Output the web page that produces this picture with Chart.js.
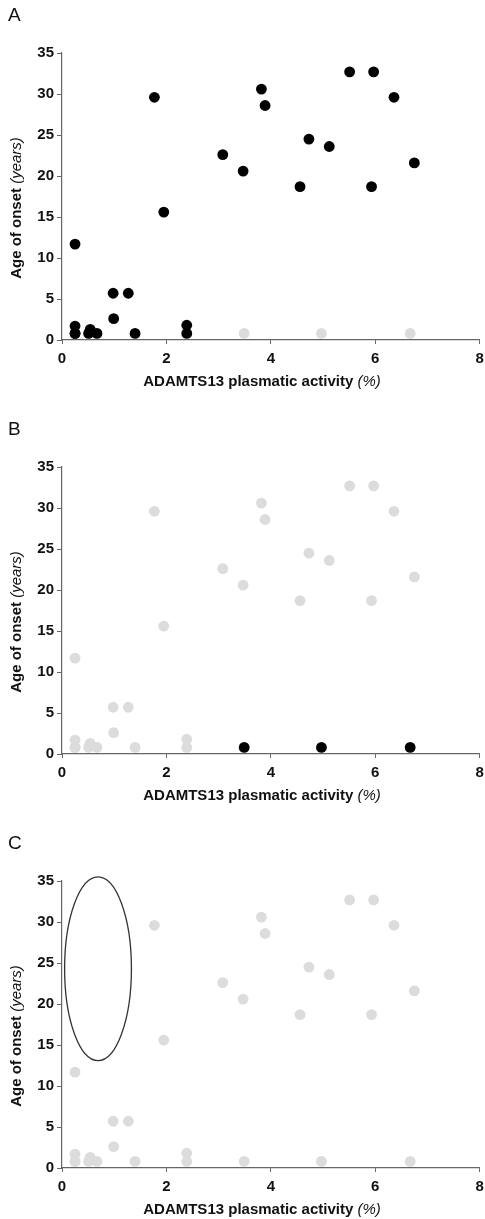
<!DOCTYPE html>
<html>
<head>
<meta charset="utf-8">
<script src="https://cdn.jsdelivr.net/npm/chart.js@4/dist/chart.umd.min.js"></script>
<style>
  body { margin: 0; background: #fff; width: 485px; height: 1219px; overflow: hidden; position: relative; }
  .panel { position: absolute; left: 0; width: 485px; height: 405px; }
  .lbl { position: absolute; left: 8px; font: 19px "Liberation Sans", Arial, sans-serif; color: #111; }
</style>
</head>
<body>
<div class="panel" style="top:0"><canvas id="cA" width="485" height="405"></canvas></div>
<div class="panel" style="top:414px"><canvas id="cB" width="485" height="405"></canvas></div>
<div class="panel" style="top:828px"><canvas id="cC" width="485" height="391"></canvas></div>
<div class="lbl" style="top:4px">A</div>
<div class="lbl" style="top:418px">B</div>
<div class="lbl" style="top:832px">C</div>
<script>
// patients: ADAMTS13 activity (%) vs age of onset (years)
var activity = [0.25, 0.25, 0.25, 0.25, 0.51, 0.54, 0.67, 0.98, 0.99, 1.27, 1.40,
                1.77, 1.95, 2.39, 2.39, 3.08, 3.47, 3.82, 3.89, 4.56, 4.73, 5.12,
                5.51, 5.93, 5.97, 6.36, 6.75];
var onset    = [11.7, 1.7, 0.8, 0.8, 0.8, 1.3, 0.8, 5.7, 2.6, 5.7, 0.8,
                29.6, 15.6, 1.8, 0.8, 22.6, 20.6, 30.6, 28.6, 18.7, 24.5, 23.6,
                32.7, 18.7, 32.7, 29.6, 21.6];
// second group (highlighted in panel B)
var activity2 = [3.49, 4.97, 6.67];
var onset2    = [0.8, 0.8, 0.8];

var xTicks = [0, 2, 4, 6, 8];
var yTicks = [0, 5, 10, 15, 20, 25, 30, 35];

// ellipse in panel C (data units)
var ellipse = { cx: 0.69, cy: 24.3, rx: 0.64, ry: 11.2 };

var BLACK = '#000000', GREY = '#dcdcdc', AXIS = '#666666';

function pts(xs, ys) {
  return xs.map(function (x, i) { return { x: x, y: ys[i] }; });
}

var axisTitles = {
  id: 'axisTitles',
  afterDraw: function (chart) {
    var ctx = chart.ctx, a = chart.chartArea;
    ctx.save();
    ctx.fillStyle = '#111';
    ctx.textBaseline = 'middle';
    // x title
    var b1 = 'ADAMTS13 plasmatic activity ', i1 = '(%)';
    ctx.font = 'bold 15px "Liberation Sans", Arial, sans-serif';
    var w1 = ctx.measureText(b1).width;
    ctx.font = 'italic 15px "Liberation Sans", Arial, sans-serif';
    var w2 = ctx.measureText(i1).width;
    var sx = 262 - (w1 + w2) / 2, sy = a.bottom + 42;
    ctx.font = 'bold 15px "Liberation Sans", Arial, sans-serif';
    ctx.fillText(b1, sx, sy);
    ctx.font = 'italic 15px "Liberation Sans", Arial, sans-serif';
    ctx.fillText(i1, sx + w1, sy);
    // y title
    var b2 = 'Age of onset ', i2 = '(years)';
    ctx.translate(17, 208);
    ctx.rotate(-Math.PI / 2);
    ctx.font = 'bold 15px "Liberation Sans", Arial, sans-serif';
    var w3 = ctx.measureText(b2).width;
    ctx.font = 'italic 15px "Liberation Sans", Arial, sans-serif';
    var w4 = ctx.measureText(i2).width;
    var s2 = -(w3 + w4) / 2;
    ctx.font = 'bold 15px "Liberation Sans", Arial, sans-serif';
    ctx.fillText(b2, s2, 0);
    ctx.font = 'italic 15px "Liberation Sans", Arial, sans-serif';
    ctx.fillText(i2, s2 + w3, 0);
    ctx.restore();
  }
};

var ellipsePlugin = {
  id: 'ellipse',
  afterDatasetsDraw: function (chart, args, opts) {
    if (!opts.show) return;
    var x = chart.scales.x, y = chart.scales.y, ctx = chart.ctx;
    var cx = x.getPixelForValue(ellipse.cx), cy = y.getPixelForValue(ellipse.cy);
    var rx = x.getPixelForValue(ellipse.cx + ellipse.rx) - cx;
    var ry = cy - y.getPixelForValue(ellipse.cy + ellipse.ry);
    ctx.save();
    ctx.beginPath();
    ctx.ellipse(cx, cy, rx, ry, 0, 0, Math.PI * 2);
    ctx.strokeStyle = '#333';
    ctx.lineWidth = 1.3;
    ctx.stroke();
    ctx.restore();
  }
};

function makeChart(id, col1, col2, showEllipse) {
  var tickFont = { family: '"Liberation Sans", Arial, sans-serif', size: 15, weight: 'bold' };
  return new Chart(document.getElementById(id), {
    type: 'scatter',
    data: {
      datasets: [
        { data: pts(activity2, onset2), backgroundColor: col2, borderWidth: 0, pointRadius: 5.4, order: col2 === BLACK ? 1 : 2 },
        { data: pts(activity, onset), backgroundColor: col1, borderWidth: 0, pointRadius: 5.4, order: col1 === BLACK ? 1 : 2 }
      ]
    },
    options: {
      responsive: false,
      animation: false,
      events: [],
      layout: { padding: { top: 53, right: 5, left: 0, bottom: 0 } },
      plugins: { legend: { display: false }, tooltip: { enabled: false }, ellipse: { show: showEllipse } },
      scales: {
        x: {
          type: 'linear', min: 0, max: 8,
          afterBuildTicks: function (s) { s.ticks = xTicks.map(function (v) { return { value: v }; }); },
          afterFit: function (s) {
            s.height = id === 'cC' ? 51 : 65;
            s.paddingLeft = 0; s.paddingRight = 0;
          },
          grid: { display: true, drawOnChartArea: false, drawTicks: true, tickLength: 4, color: AXIS },
          border: { display: true, color: AXIS, width: 1.2 },
          ticks: { color: '#111', font: tickFont, padding: 6 }
        },
        y: {
          type: 'linear', min: 0, max: 35,
          afterBuildTicks: function (s) { s.ticks = yTicks.map(function (v) { return { value: v }; }); },
          afterFit: function (s) { s.width = 62; s.paddingTop = 0; s.paddingBottom = 0; },
          grid: { display: true, drawOnChartArea: false, drawTicks: true, tickLength: 5, color: AXIS },
          border: { display: true, color: AXIS, width: 1.2 },
          ticks: { color: '#111', font: tickFont, padding: 3 }
        }
      }
    },
    plugins: [axisTitles, ellipsePlugin]
  });
}

makeChart('cA', BLACK, GREY, false);
makeChart('cB', GREY, BLACK, false);
makeChart('cC', GREY, GREY, true);
</script>
</body>
</html>
